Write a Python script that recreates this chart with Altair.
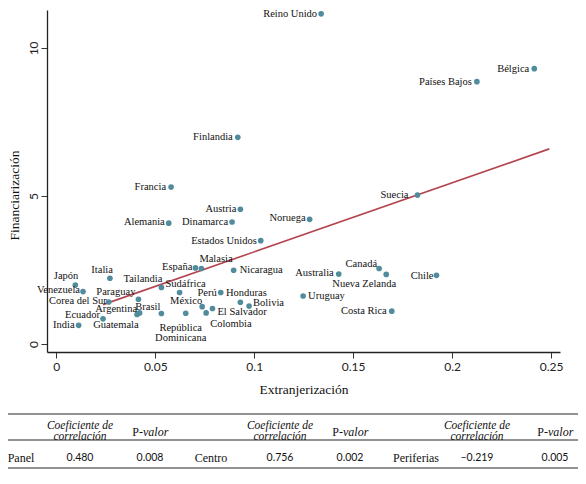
import altair as alt
import pandas as pd

# ---------------- data ----------------
paises = [
    "Reino Unido", "Bélgica", "Países Bajos", "Finlandia", "Francia", "Austria",
    "Alemania", "Dinamarca", "Noruega", "Estados Unidos", "Suecia", "Chile",
    "Canadá", "Australia", "Nueva Zelanda", "Uruguay", "Costa Rica", "España",
    "Malasia", "Nicaragua", "Japón", "Italia", "Venezuela", "Tailandia",
    "Sudáfrica", "Paraguay", "Corea del Sur", "Argentina", "Guatemala", "Brasil",
    "Perú", "Honduras", "Bolivia", "México", "El Salvador", "Colombia",
    "República Dominicana", "Ecuador", "India",
]
extranjerizacion = [
    0.1338, 0.2415, 0.2125, 0.0917, 0.0580, 0.0930,
    0.0568, 0.0888, 0.1280, 0.1033, 0.1825, 0.1921,
    0.1631, 0.1427, 0.1667, 0.1247, 0.1695, 0.0703,
    0.0733, 0.0896, 0.0096, 0.0271, 0.0135, 0.0531,
    0.0623, 0.0415, 0.0265, 0.0408, 0.0421, 0.0531,
    0.0831, 0.0930, 0.0974, 0.0737, 0.0789, 0.0757,
    0.0654, 0.0236, 0.0113,
]
financiarizacion = [
    11.15, 9.30, 8.86, 6.98, 5.30, 4.55,
    4.08, 4.12, 4.21, 3.49, 5.03, 2.32,
    2.55, 2.36, 2.35, 1.62, 1.11, 2.57,
    2.55, 2.49, 1.99, 2.22, 1.77, 1.91,
    1.74, 1.51, 1.42, 1.00, 1.05, 1.03,
    1.74, 1.41, 1.28, 1.26, 1.20, 1.05,
    1.04, 0.85, 0.63,
]
ajuste_x = [0.0236, 0.2491]
ajuste_y = [1.33, 6.59]

x_ticks = [0, 0.05, 0.1, 0.15, 0.2, 0.25]
y_ticks = [0, 5, 10]

grupos = ["Panel", "Centro", "Periferias"]
coef_corr = [0.480, 0.756, -0.219]
p_valor = [0.008, 0.002, 0.005]

# ---------------- styles ----------------
SERIF = "Liberation Serif"
SANS = "Lato"
DOT = "#508c9b"
LINE = "#b4454f"
INK = "#111111"

# label placement per country: (align, dx, dy) in pixels
label_style = {
    "Reino Unido": ("right", -4, 0), "Bélgica": ("right", -5, 0),
    "Países Bajos": ("right", -5, 0), "Finlandia": ("right", -5, 0),
    "Francia": ("right", -5, 0), "Austria": ("right", -4, 0),
    "Alemania": ("right", -4, -1), "Dinamarca": ("right", -4, 0),
    "Noruega": ("right", -4, -1), "Estados Unidos": ("right", -4, 0),
    "Suecia": ("right", -9, 0), "Chile": ("right", -3, 1),
    "Canadá": ("right", -2, -4), "Australia": ("right", -5, -1),
    "Nueva Zelanda": ("center", -22, 10), "Uruguay": ("left", 5, 0),
    "Costa Rica": ("right", -5, 0), "España": ("right", -3, -1),
    "Malasia": ("left", -2, -9), "Nicaragua": ("left", 6, 0),
    "Japón": ("right", 3, -9), "Italia": ("right", 3, -8),
    "Venezuela": ("right", -3, -1.5), "Tailandia": ("right", 1, -8),
    "Sudáfrica": ("center", 6, -8), "Paraguay": ("right", -3, -7),
    "Corea del Sur": ("right", -2, -1), "Argentina": ("right", 0, -5),
    "Guatemala": ("right", -1, 12), "Brasil": ("right", -1, -7),
    "Perú": ("right", -4, 1), "Honduras": ("center", 6, -9),
    "Bolivia": ("left", 4, -3), "México": ("right", 0, -6),
    "El Salvador": ("left", 5, 4), "Colombia": ("left", 4, 11),
    "República Dominicana": ("center", -5, 15), "Ecuador": ("right", -3, -4),
    "India": ("right", -4, 0),
}

# ---------------- layout ----------------
PAD_L, PAD_T, PAD_R, PAD_B = 39, 2, 18, 118
PW, PH = 513, 342

# ---------------- scatter ----------------
df = pd.DataFrame({"pais": paises, "x": extranjerizacion, "y": financiarizacion})
df_fit = pd.DataFrame({"x": ajuste_x, "y": ajuste_y})

xs = alt.Scale(domain=[-0.0047, 0.2545], nice=False, zero=False)
ys = alt.Scale(domain=[-0.27, 11.28], nice=False, zero=False)

x_axis = alt.Axis(
    values=x_ticks, format="~g", title="Extranjerización", grid=False,
    labelFont=SANS, labelFontSize=12, labelColor="#222", labelPadding=3,
    labelFlush=False, tickSize=6, tickColor="#333", tickWidth=1,
    domainColor="#222", domainWidth=1.3,
    titleFont=SERIF, titleFontSize=13.5, titleFontWeight="normal",
    titleColor=INK, titlePadding=10,
)
y_axis = alt.Axis(
    values=y_ticks, title="Financiarización", grid=False,
    labelFont=SANS, labelFontSize=12, labelColor="#222", labelPadding=4,
    labelAngle=270, labelAlign="center", labelBaseline="alphabetic",
    labelFlush=False, tickSize=6, tickColor="#333", tickWidth=1,
    domainColor="#222", domainWidth=1.3,
    titleFont=SERIF, titleFontSize=13.5, titleFontWeight="normal",
    titleColor=INK, titlePadding=6, titleY=185,
)

base = alt.Chart(df)
fit = alt.Chart(df_fit).mark_line(color=LINE, strokeWidth=1.6).encode(
    x=alt.X("x:Q", scale=xs, axis=x_axis),
    y=alt.Y("y:Q", scale=ys, axis=y_axis),
)
pts = base.mark_circle(size=32, color=DOT, opacity=1).encode(
    x=alt.X("x:Q", scale=xs),
    y=alt.Y("y:Q", scale=ys),
)
layers = [fit, pts]
for name in paises:
    al, dx, dy = label_style[name]
    kw = {}
    if name == "República Dominicana":
        kw = {"lineBreak": " ", "lineHeight": 10}
    layers.append(
        base.transform_filter(alt.datum.pais == name)
        .mark_text(align=al, baseline="middle", dx=dx, dy=dy, font=SERIF,
                   fontSize=10.5, color=INK, **kw)
        .encode(x=alt.X("x:Q", scale=xs), y=alt.Y("y:Q", scale=ys), text="pais:N")
    )
scatter = alt.layer(*layers)

# ---------------- table (positions in px from the chart's top-left) ----------------
tbl_coef_x = [72, 272, 469]
tbl_p_x = [142, 342, 547]
tbl_group_x = [13, 203, 408]
tbl_rules_y = [406, 432, 460]
HEAD_Y1, HEAD_Y, ROW_Y = 418, 423.5, 449.5
TBL_X0, TBL_X1 = 0, 570

txs = alt.Scale(domain=[PAD_L, PAD_L + PW], nice=False, zero=False)
tys = alt.Scale(domain=[PAD_T, PAD_T + PH], reverse=True, nice=False, zero=False)

def fmt(v):
    return f"{v:.3f}".replace("-", "\u2013")

head = pd.DataFrame({"tx": tbl_coef_x, "ty": [HEAD_Y1] * 3,
                     "t": ["Coeficiente de\ncorrelación"] * 3})
pv_a = pd.DataFrame({"tx": [p - 7 for p in tbl_p_x], "ty": [HEAD_Y] * 3, "t": ["P-"] * 3})
pv_b = pd.DataFrame({"tx": [p - 7 for p in tbl_p_x], "ty": [HEAD_Y] * 3, "t": ["valor"] * 3})
grp = pd.DataFrame({"tx": tbl_group_x, "ty": [ROW_Y] * 3, "t": grupos})
nums = pd.DataFrame({
    "tx": tbl_coef_x + tbl_p_x,
    "ty": [ROW_Y] * 6,
    "t": [fmt(v) for v in coef_corr] + [fmt(v) for v in p_valor],
})
rules = pd.DataFrame({"ty": tbl_rules_y, "tx0": [TBL_X0] * 3, "tx1": [TBL_X1] * 3})

def tenc():
    return dict(x=alt.X("tx:Q", scale=txs, axis=None),
                y=alt.Y("ty:Q", scale=tys, axis=None), text="t:N")

t_rules = alt.Chart(rules).mark_rule(color="#6e6e6e", strokeWidth=1.6).encode(
    x=alt.X("tx0:Q", scale=txs, axis=None), x2="tx1:Q",
    y=alt.Y("ty:Q", scale=tys, axis=None))
t_head = alt.Chart(head).mark_text(font=SERIF, fontSize=11.5, fontStyle="italic",
                                   color=INK, lineBreak="\n", lineHeight=10.5,
                                   align="center", baseline="middle").encode(**tenc())
t_pa = alt.Chart(pv_a).mark_text(font=SERIF, fontSize=12, color=INK,
                                 align="right", baseline="middle").encode(**tenc())
t_pb = alt.Chart(pv_b).mark_text(font=SERIF, fontSize=12, fontStyle="italic",
                                 color=INK, align="left", baseline="middle").encode(**tenc())
t_grp = alt.Chart(grp).mark_text(font=SERIF, fontSize=12, color=INK,
                                 align="center", baseline="middle").encode(**tenc())
t_num = alt.Chart(nums).mark_text(font=SANS, fontSize=10.5, color=INK,
                                  align="center", baseline="middle").encode(**tenc())
table = alt.layer(t_rules, t_head, t_pa, t_pb, t_grp, t_num)

chart = (
    alt.layer(scatter, table)
    .resolve_scale(x="independent", y="independent")
    .properties(
        width=PW, height=PH,
        autosize=alt.AutoSizeParams(type="none"),
        padding={"left": PAD_L, "top": PAD_T, "right": PAD_R, "bottom": PAD_B},
        background="white",
    )
    .configure_view(stroke=None)
)
chart.save("out.html", embed_options={"renderer": "svg", "actions": False})
